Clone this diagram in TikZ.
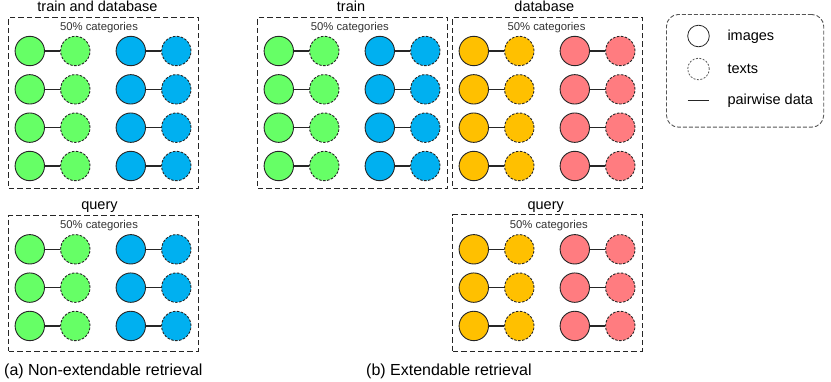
\documentclass[tikz,border=0pt]{standalone}
\usepackage{fontspec}
\setmainfont{Liberation Sans}
\definecolor{cgreen}{HTML}{66FF66}
\definecolor{cblue}{HTML}{00B0F0}
\definecolor{cyellow}{HTML}{FFC000}
\definecolor{cred}{HTML}{FF7C80}
\definecolor{strokec}{HTML}{262626}
\definecolor{legc}{HTML}{555555}
\tikzset{
  img/.style={circle, draw=strokec, line width=0.9pt, minimum size=29.4pt, inner sep=0pt},
  txt/.style={img, dash pattern=on 2.5pt off 1.5pt},
  pairline/.style={draw=strokec, line width=1.1pt},
  groupbox/.style={rectangle, draw=strokec, line width=1.1pt, dash pattern=on 5.5pt off 3pt,
     minimum width=189.4pt, inner sep=0pt, anchor=north west},
  titletext/.style={font=\fontsize{14.5}{17}\selectfont, anchor=base, inner sep=0pt},
  cattext/.style={font=\fontsize{11.3}{13}\selectfont, text=black!80, anchor=base, inner sep=0pt},
  captext/.style={font=\fontsize{16}{19}\selectfont, anchor=base west, inner sep=0pt},
  legtext/.style={font=\fontsize{14.5}{17}\selectfont, anchor=base west, inner sep=0pt},
  legimg/.style={circle, draw=strokec, line width=0.8pt, minimum size=21.6pt, inner sep=0pt},
  legtxt/.style={legimg, draw=legc, dash pattern=on 2pt off 1.5pt},
  legbox/.style={rectangle, draw=legc, line width=0.9pt, dash pattern=on 4pt off 2pt,
     rounded corners=12pt, anchor=north west, inner sep=0pt},
}
\newcommand\pairset[6]{%
  \foreach \r in {1,...,#4}{%
    \pgfmathsetmacro\yy{#3+(\r-1)*38.33}
    \node[img, fill=#5] (#1a\r) at (#2+21.5,\yy) {};
    \node[txt, fill=#5] (#1b\r) at (#2+67,\yy) {};
    \node[img, fill=#6] (#1c\r) at (#2+122.5,\yy) {};
    \node[txt, fill=#6] (#1d\r) at (#2+168,\yy) {};
    \draw[pairline] (#1a\r) -- (#1b\r);
    \draw[pairline] (#1c\r) -- (#1d\r);
  }}
\begin{document}
\begin{tikzpicture}[x=1pt,y=-1pt]
\useasboundingbox (0,0) rectangle (831,381);
% (a) train and database
\node[groupbox, minimum height=171.6pt] (boxA) at (8.3,16.7) {};
\node[titletext] (tA) at (97.5,11) {train and database};
\node[cattext] (cA) at (99,30.7) {50\% categories};
\pairset{A}{8.3}{51}{4}{cgreen}{cblue}
% (a) query
\node[groupbox, minimum height=135.7pt] (boxAQ) at (8.3,215) {};
\node[titletext] (tAQ) at (99.5,209) {query};
\node[cattext] (cAQ) at (99,228.3) {50\% categories};
\pairset{AQ}{8.3}{249.3}{3}{cgreen}{cblue}
% (b) train
\node[groupbox, minimum height=171.6pt] (boxB) at (257.3,16.7) {};
\node[titletext] (tB) at (351,11) {train};
\node[cattext] (cB) at (349.8,30.7) {50\% categories};
\pairset{B}{257.3}{51}{4}{cgreen}{cblue}
% (b) database
\node[groupbox, minimum height=171.6pt] (boxD) at (452.3,16.7) {};
\node[titletext] (tD) at (544.3,11) {database};
\node[cattext] (cD) at (546.5,30.7) {50\% categories};
\pairset{D}{452.3}{51}{4}{cyellow}{cred}
% (b) query
\node[groupbox, minimum height=136.4pt] (boxBQ) at (452.3,214.3) {};
\node[titletext] (tBQ) at (545.7,209) {query};
\node[cattext] (cBQ) at (548.8,228.3) {50\% categories};
\pairset{BQ}{452.3}{249.3}{3}{cyellow}{cred}
% captions
\node[captext] (capA) at (4,375) {(a) Non-extendable retrieval};
\node[captext] (capB) at (366,375) {(b) Extendable retrieval};
% legend
\node[legbox, minimum width=157.3pt, minimum height=112.7pt] (leg) at (666,14) {};
\node[legimg] (limg) at (698.5,36) {};
\node[legtxt] (ltxt) at (698.5,69) {};
\coordinate (lp1) at (687.7,100.7);
\coordinate (lp2) at (709.3,100.7);
\draw[pairline] (lp1) -- (lp2);
\node[legtext] (limgt) at (727.3,40.5) {images};
\node[legtext] (ltxtt) at (727.3,73.5) {texts};
\node[legtext] (lpairt) at (727.3,104.5) {pairwise data};
\end{tikzpicture}
\end{document}
